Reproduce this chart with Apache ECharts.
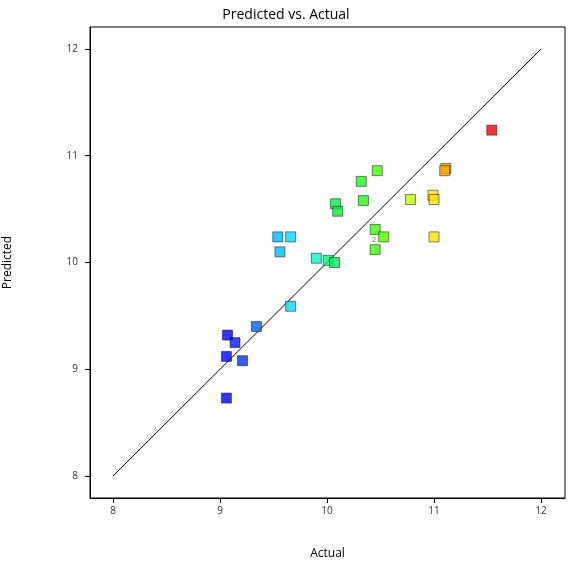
<!DOCTYPE html><html><head><meta charset="utf-8"><script src="https://cdn.jsdelivr.net/npm/echarts@6/dist/echarts.min.js"></script></head><body style="margin:0"><div id="c" style="width:572px;height:571px"></div><script>
const actual=[11.54,11.11,11.10,10.99,11.0,11.0,10.78,10.47,10.32,10.34,10.08,10.10,10.45,10.53,10.45,9.90,10.01,10.07,9.54,9.66,9.56,9.66,9.34,9.07,9.14,9.06,9.21,9.06];
const predicted=[11.24,10.88,10.86,10.63,10.59,10.24,10.59,10.86,10.76,10.58,10.55,10.48,10.31,10.24,10.12,10.04,10.02,10.0,10.24,10.24,10.1,9.59,9.40,9.32,9.25,9.12,9.08,8.73];
const ticks=[8,9,10,11,12];
const pts=actual.map((a,i)=>[a,predicted[i]]);
const stops=[[9.06,[0,0,255]],[9.25,[0,60,255]],[9.5,[0,170,255]],[9.7,[0,230,255]],[9.95,[0,255,170]],[10.1,[0,235,60]],[10.5,[70,255,0]],[10.8,[200,255,0]],[11.0,[255,225,0]],[11.1,[255,165,0]],[11.54,[255,0,0]]];
function col(v){for(let i=1;i<stops.length;i++){if(v<=stops[i][0]){const a=stops[i-1],b=stops[i],t=(v-a[0])/(b[0]-a[0]);const c=a[1].map((x,k)=>Math.round(x+(b[1][k]-x)*t));return 'rgb('+c.join(',')+')';}}return 'rgb(255,0,0)';}
const f="'Open Sans',sans-serif";
const ch=echarts.init(document.getElementById('c'));
ch.setOption({animation:false,
title:{text:'Predicted vs. Actual',left:'center',top:3,textStyle:{fontFamily:f,fontSize:14,fontWeight:'normal',color:'#000'}},
grid:{left:90,right:7,top:27,bottom:73,outerBoundsMode:'none',containLabel:false},
xAxis:{type:'value',min:7.785,max:12.224,name:'Actual',nameLocation:'middle',nameGap:50,nameTextStyle:{fontFamily:f,fontSize:12,color:'#000'},
 axisLine:{onZero:false,lineStyle:{color:'#000'}},splitLine:{show:false},
 axisTick:{customValues:ticks,length:5,lineStyle:{color:'#000'}},axisLabel:{customValues:ticks,fontFamily:f,fontSize:10,color:'#333'}},
yAxis:{type:'value',min:7.794,max:12.206,name:'Predicted',nameLocation:'middle',nameGap:76,nameTextStyle:{fontFamily:f,fontSize:12,color:'#000'},
 axisLine:{show:true,onZero:false,lineStyle:{color:'#000'}},splitLine:{show:false},
 axisTick:{show:true,customValues:ticks,length:5,lineStyle:{color:'#000'}},axisLabel:{customValues:ticks,fontFamily:f,fontSize:10,color:'#333',margin:12}},
graphic:[{type:'rect',shape:{x:90,y:27,width:475,height:471},style:{fill:'none',stroke:'#000',lineWidth:1},silent:true}],
series:[
{type:'line',data:[[8,8],[12,12]],symbol:'none',lineStyle:{color:'#000',width:1},z:1},
{type:'scatter',data:pts,symbol:'rect',symbolSize:10,itemStyle:{color:p=>col(p.value[0]),borderColor:'rgba(0,0,0,0.6)',borderWidth:1},z:3,
 markPoint:{symbol:'circle',symbolSize:1,label:{show:true,formatter:'2',fontSize:8,color:'#777',fontFamily:f},data:[{coord:[10.44,10.21]}]}}
]});
</script></body></html>
